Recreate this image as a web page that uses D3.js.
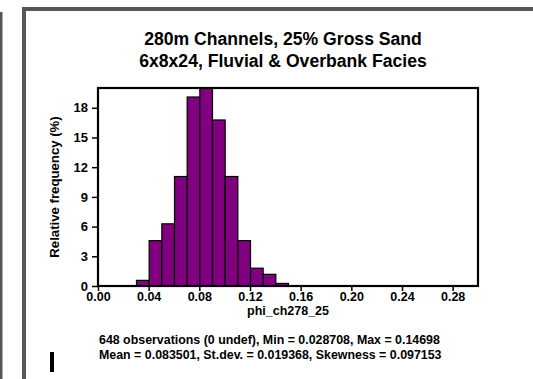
<!DOCTYPE html>
<html>
<head>
<meta charset="utf-8">
<script src="https://cdn.jsdelivr.net/npm/d3@7"></script>
<style>
  html, body { margin: 0; padding: 0; background: #fff; }
  svg { display: block; }
  text { font-family: "Liberation Sans", Arial, sans-serif; font-weight: bold; fill: #000; }
</style>
</head>
<body>
<svg id="chart" width="533" height="379"></svg>
<script>
// Histogram of phi_ch278_25: bin starts (width 0.01) and relative frequency (%)
const binStarts = [0.03, 0.04, 0.05, 0.06, 0.07, 0.08, 0.09, 0.10, 0.11, 0.12, 0.13, 0.14];
const frequencies = [0.62, 4.63, 6.33, 11.11, 19.14, 22.22, 16.82, 11.11, 4.63, 1.85, 1.23, 0.31];
const binWidth = 0.01;
const xTicks = [0.00, 0.04, 0.08, 0.12, 0.16, 0.20, 0.24, 0.28];
const yTicks = [0, 3, 6, 9, 12, 15, 18];
const titleLines = ["280m Channels, 25% Gross Sand", "6x8x24, Fluvial & Overbank Facies"];
const xLabel = "phi_ch278_25";
const yLabel = "Relative frequency (%)";
const statsLines = [
  "648 observations (0 undef), Min = 0.028708, Max = 0.14698",
  "Mean = 0.083501, St.dev. = 0.019368, Skewness = 0.097153"
];

const svg = d3.select("#chart");
const plot = { left: 98, top: 88, right: 478, bottom: 286 };

const x = d3.scaleLinear().domain([0, 0.30]).range([plot.left, plot.right]);
const y = d3.scaleLinear().domain([0, 20]).range([plot.bottom, plot.top]);

// window frame
const frameColor = "#565656";
svg.append("rect").attr("x", 0).attr("y", 12).attr("width", 2.5).attr("height", 379).attr("fill", frameColor);
svg.append("rect").attr("x", 22).attr("y", 7).attr("width", 4).attr("height", 372).attr("fill", frameColor);
svg.append("rect").attr("x", 22).attr("y", 7).attr("width", 511).attr("height", 4).attr("fill", frameColor);

// title
svg.append("g").selectAll("text").data(titleLines).join("text")
  .attr("x", 283).attr("y", (d, i) => 45 + i * 22)
  .attr("text-anchor", "middle").attr("font-size", 17.6)
  .text(d => d);

// bars, clipped to the plot frame
svg.append("defs").append("clipPath").attr("id", "plotClip")
  .append("rect").attr("x", plot.left).attr("y", plot.top)
  .attr("width", plot.right - plot.left).attr("height", plot.bottom - plot.top);

svg.append("g").attr("clip-path", "url(#plotClip)")
  .selectAll("rect").data(binStarts).join("rect")
  .attr("x", d => x(d) + 0.5)
  .attr("y", (d, i) => y(frequencies[i]) + 0.5)
  .attr("width", d => x(d + binWidth) - x(d))
  .attr("height", (d, i) => y(0) - y(frequencies[i]))
  .attr("fill", "#800080").attr("stroke", "#000").attr("stroke-width", 1.2);

// plot frame
svg.append("rect").attr("x", plot.left).attr("y", plot.top)
  .attr("width", plot.right - plot.left).attr("height", plot.bottom - plot.top)
  .attr("fill", "none").attr("stroke", "#000").attr("stroke-width", 2.2);

// x axis
const xAxis = svg.append("g").attr("transform", `translate(0,${plot.bottom})`)
  .call(d3.axisBottom(x).tickValues(xTicks).tickFormat(d3.format(".2f")).tickSize(5).tickPadding(1));
xAxis.select(".domain").remove();
xAxis.selectAll("line").attr("stroke", "#000").attr("stroke-width", 1.5);
xAxis.selectAll("text").attr("font-size", 12.5).attr("font-family", null);

// y axis
const yAxis = svg.append("g").attr("transform", `translate(${plot.left},0)`)
  .call(d3.axisLeft(y).tickValues(yTicks).tickSize(6).tickPadding(4));
yAxis.select(".domain").remove();
yAxis.selectAll("line").attr("stroke", "#000").attr("stroke-width", 1.5);
yAxis.selectAll("text").attr("font-size", 13).attr("font-family", null);
svg.selectAll(".tick text").attr("fill", "#000");

// axis titles
svg.append("text").attr("x", 288).attr("y", 315)
  .attr("text-anchor", "middle").attr("font-size", 12.5).text(xLabel);
svg.append("text")
  .attr("transform", "translate(59,187) rotate(-90)")
  .attr("text-anchor", "middle").attr("font-size", 13.2).text(yLabel);

// summary statistics
svg.append("g").selectAll("text").data(statsLines).join("text")
  .attr("x", 99).attr("y", (d, i) => 344 + i * 15)
  .attr("font-size", 12.4).text(d => d);

// caret mark at lower left
svg.append("rect").attr("x", 50).attr("y", 352).attr("width", 4).attr("height", 20).attr("fill", "#000");
</script>
</body>
</html>
